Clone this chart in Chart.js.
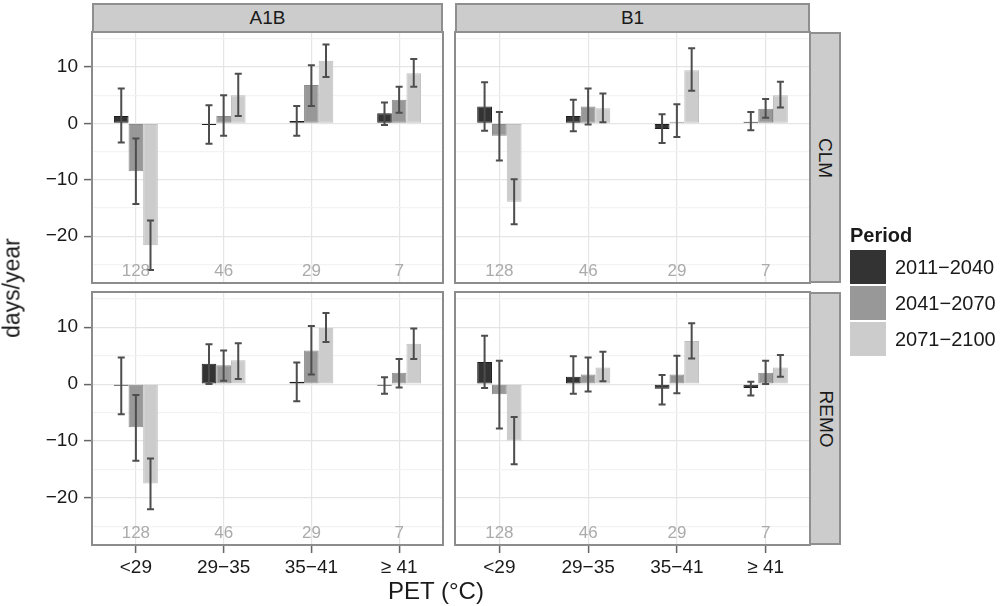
<!DOCTYPE html>
<html><head><meta charset="utf-8">
<script src="https://cdn.jsdelivr.net/npm/chart.js@4.4.1/dist/chart.umd.min.js"></script>
<style>
html,body{margin:0;padding:0;background:#fff;}
body{width:1000px;height:606px;overflow:hidden;position:relative;font-family:"Liberation Sans",Arial,sans-serif;}
canvas{position:absolute;left:0;top:0;}
.strip{position:absolute;box-sizing:border-box;background:#cccccc;border:2px solid #8f8f8f;color:#1a1a1a;font-size:19px;display:flex;align-items:center;justify-content:center;}
.vtext{transform:rotate(90deg);white-space:nowrap;}
.title{position:absolute;color:#1a1a1a;white-space:nowrap;}
.legkey{position:absolute;box-sizing:border-box;width:38px;height:36px;border:1px solid #fff;}
.leglab{position:absolute;font-size:20px;color:#1a1a1a;white-space:nowrap;line-height:20px;}
</style>
</head><body>
<canvas id="c_a1b_clm" width="1000" height="606"></canvas>
<canvas id="c_b1_clm" width="1000" height="606"></canvas>
<canvas id="c_a1b_remo" width="1000" height="606"></canvas>
<canvas id="c_b1_remo" width="1000" height="606"></canvas>
<div id="overlay"></div>
<script>
// ---------- data ----------
const categories = ['<29', '29\u221235', '35\u221241', '\u2265 41'];
const periods = ['2011\u22122040', '2041\u22122070', '2071\u22122100'];
const counts = [128, 46, 29, 7];
const scenarios = ['A1B', 'B1'];
const models = ['CLM', 'REMO'];
const yMajorTicks = [-20, -10, 0, 10];
const yMinorTicks = [-25, -15, -5, 5, 15];

// means [period][category]
const a1bClmMean = [[1.3, -0.3, 0.4, 1.8], [-8.5, 1.3, 6.8, 4.2], [-21.6, 5.0, 11.1, 8.9]];
const a1bClmLow  = [[-3.4, -3.6, -2.2, -0.3], [-14.3, -2.2, 3.1, 1.9], [-26.0, 1.3, 8.2, 6.5]];
const a1bClmHigh = [[6.2, 3.2, 3.1, 3.7], [-2.7, 5.0, 10.3, 6.5], [-17.2, 8.8, 14.0, 11.4]];

const b1ClmMean = [[3.0, 1.3, -1.0, 0.3], [-2.2, 3.0, 0.3, 2.6], [-13.9, 2.7, 9.4, 5.0]];
const b1ClmLow  = [[-1.3, -1.4, -3.5, -1.2], [-6.6, -0.2, -2.4, 1.0], [-17.9, 0.2, 5.8, 2.8]];
const b1ClmHigh = [[7.3, 4.2, 1.6, 2.0], [2.0, 6.2, 3.4, 4.3], [-9.9, 5.3, 13.3, 7.4]];

const a1bRemoMean = [[-0.3, 3.6, 0.4, -0.3], [-7.6, 3.3, 5.9, 2.0], [-17.5, 4.2, 9.9, 7.1]];
const a1bRemoLow  = [[-5.3, 0.0, -3.0, -1.7], [-13.5, 0.6, 1.7, -0.6], [-22.0, 0.9, 7.4, 4.4]];
const a1bRemoHigh = [[4.7, 7.0, 3.8, 1.2], [-1.9, 5.9, 10.2, 4.4], [-13.1, 7.2, 12.5, 9.8]];

const b1RemoMean = [[3.9, 1.3, -0.8, -0.7], [-1.8, 1.7, 1.7, 2.0], [-9.9, 2.9, 7.6, 2.9]];
const b1RemoLow  = [[-0.7, -1.7, -3.6, -2.0], [-7.8, -1.3, -1.6, 0.0], [-14.1, 0.5, 4.5, 1.3]];
const b1RemoHigh = [[8.5, 4.9, 1.6, 0.4], [4.1, 4.7, 5.0, 4.1], [-5.8, 5.7, 10.7, 5.1]];

// ---------- styling / layout ----------
const fills = ['#333333', '#989898', '#cccccc'];
const outlines = ['#1e1e1e', '#8a8a8a', '#bebebe'];
const FONT = '"Liberation Sans", Arial, sans-serif';
const Y_MIN = -28.3, Y_MAX = 16.2;
const COUNT_Y = -26.3;
const Y_AXIS_W = 92, X_AXIS_H = 40;
const rects = {
  tl: {l: 92, t: 32, r: 443, b: 283},
  tr: {l: 455, t: 32, r: 810, b: 283},
  bl: {l: 92, t: 292, r: 443, b: 545},
  br: {l: 455, t: 292, r: 810, b: 545}
};

const fmt = v => v < 0 ? '\u2212' + Math.abs(v) : String(v);

const panelPlugin = {
  id: 'panelExtras',
  afterDatasetsDraw(chart) {
    const ctx = chart.ctx, xs = chart.scales.x, ys = chart.scales.y;
    ctx.save();
    ctx.strokeStyle = '#4d4d4d';
    ctx.lineWidth = 2;
    chart.data.datasets.forEach((ds, di) => {
      const meta = chart.getDatasetMeta(di);
      meta.data.forEach((bar, i) => {
        const yl = ys.getPixelForValue(ds.low[i]);
        const yh = ys.getPixelForValue(ds.high[i]);
        const x = bar.x;
        ctx.beginPath();
        ctx.moveTo(x, yl); ctx.lineTo(x, yh);
        ctx.moveTo(x - 3.5, yl); ctx.lineTo(x + 3.5, yl);
        ctx.moveTo(x - 3.5, yh); ctx.lineTo(x + 3.5, yh);
        ctx.stroke();
      });
    });
    ctx.fillStyle = '#ababab';
    ctx.font = '17px ' + FONT;
    ctx.textAlign = 'center';
    ctx.textBaseline = 'middle';
    counts.forEach((c, i) => ctx.fillText(String(c), xs.getPixelForValue(i), ys.getPixelForValue(COUNT_Y)));
    const a = chart.chartArea;
    ctx.strokeStyle = '#8c8c8c';
    ctx.lineWidth = 2;
    ctx.strokeRect(a.left, a.top, a.right - a.left, a.bottom - a.top);
    ctx.restore();
  }
};

function makeChart(id, means, lows, highs, rect, showY, showX) {
  const datasets = periods.map((p, k) => ({
    label: p, data: means[k], low: lows[k], high: highs[k],
    backgroundColor: fills[k], borderColor: outlines[k], borderWidth: 1, borderSkipped: false,
    categoryPercentage: 0.5, barPercentage: 1.0
  }));
  return new Chart(document.getElementById(id), {
    type: 'bar',
    data: {labels: categories, datasets},
    options: {
      responsive: false, animation: false,
      layout: {padding: {
        left: showY ? rect.l - Y_AXIS_W : rect.l,
        top: rect.t,
        right: 1000 - rect.r,
        bottom: showX ? 606 - rect.b - X_AXIS_H : 606 - rect.b
      }},
      plugins: {legend: {display: false}, tooltip: {enabled: false}},
      scales: {
        x: {
          offset: true,
          grid: {offset: false, color: '#e5e5e5', lineWidth: 1.2, drawTicks: showX, tickLength: 8, tickColor: '#666666', tickWidth: 1.5},
          border: {display: false},
          ticks: {display: showX, color: '#1a1a1a', font: {size: 19, family: FONT}, padding: 3, maxRotation: 0, autoSkip: false},
          afterFit(s) { s.height = showX ? X_AXIS_H : 0; }
        },
        y: {
          min: Y_MIN, max: Y_MAX,
          afterBuildTicks(s) { s.ticks = yMajorTicks.concat(yMinorTicks).sort((a, b) => a - b).map(v => ({value: v})); },
          grid: {
            color: c => (c.tick && c.tick.value % 10 === 0) ? '#e5e5e5' : '#f3f3f3',
            lineWidth: 1.2,
            drawTicks: showY, tickLength: 8, tickWidth: 1.5,
            tickColor: c => (c.tick && c.tick.value % 10 === 0) ? '#666666' : 'rgba(0,0,0,0)'
          },
          border: {display: false},
          ticks: {display: showY, color: '#1a1a1a', font: {size: 19, family: FONT}, padding: 6,
                  callback: v => yMajorTicks.includes(v) ? fmt(v) : ''},
          afterFit(s) { s.width = showY ? Y_AXIS_W : 0; }
        }
      }
    },
    plugins: [panelPlugin]
  });
}

makeChart('c_a1b_clm', a1bClmMean, a1bClmLow, a1bClmHigh, rects.tl, true, false);
makeChart('c_b1_clm', b1ClmMean, b1ClmLow, b1ClmHigh, rects.tr, false, false);
makeChart('c_a1b_remo', a1bRemoMean, a1bRemoLow, a1bRemoHigh, rects.bl, true, true);
makeChart('c_b1_remo', b1RemoMean, b1RemoLow, b1RemoHigh, rects.br, false, true);

// ---------- strips, titles, legend ----------
const ov = document.getElementById('overlay');
function add(html) { ov.insertAdjacentHTML('beforeend', html); }
add(`<div class="strip" style="left:${rects.tl.l}px;top:3px;width:${rects.tl.r - rects.tl.l}px;height:${rects.tl.t - 3 + 1}px;">${scenarios[0]}</div>`);
add(`<div class="strip" style="left:${rects.tr.l}px;top:3px;width:${rects.tr.r - rects.tr.l}px;height:${rects.tr.t - 3 + 1}px;">${scenarios[1]}</div>`);
add(`<div class="strip" style="left:${rects.tr.r - 1}px;top:${rects.tr.t}px;width:32px;height:${rects.tr.b - rects.tr.t}px;"><span class="vtext">${models[0]}</span></div>`);
add(`<div class="strip" style="left:${rects.br.r - 1}px;top:${rects.br.t}px;width:32px;height:${rects.br.b - rects.br.t}px;"><span class="vtext">${models[1]}</span></div>`);
add(`<div class="title" style="left:436px;top:591px;font-size:24px;transform:translate(-50%,-50%);">PET (°C)</div>`);
add(`<div class="title" style="left:12px;top:288px;font-size:23px;transform:translate(-50%,-50%) rotate(-90deg);">days/year</div>`);
add(`<div class="leglab" style="left:850px;top:225px;font-weight:bold;">Period</div>`);
periods.forEach((p, k) => {
  const top = 249 + k * 36;
  add(`<div class="legkey" style="left:849px;top:${top}px;background:${fills[k]};"></div>`);
  add(`<div class="leglab" style="left:895px;top:${top + 8}px;">${p}</div>`);
});
</script>
</body></html>
